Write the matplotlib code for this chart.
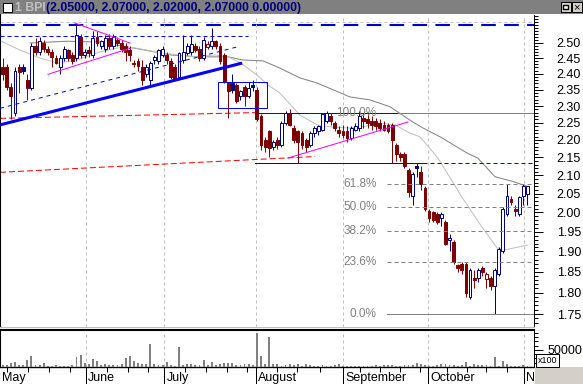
import numpy as np
import matplotlib
matplotlib.use("Agg")
import matplotlib.pyplot as plt
from matplotlib.patches import Rectangle
from matplotlib.ticker import FixedLocator, FormatStrFormatter, NullFormatter
from matplotlib.transforms import Affine2D, blended_transform_factory

plt.rcParams['font.family'] = ['Liberation Sans', 'DejaVu Sans']

W, H, DPI = 583, 384, 100

# daily bars, May - early November
opens = [2.42, 2.42, 2.36, 2.28, 2.42, 2.42, 2.38, 2.355, 2.49, 2.47,
         2.50, 2.48, 2.47, 2.45, 2.42, 2.45, 2.475, 2.46, 2.45, 2.52,
         2.46, 2.475, 2.46, 2.52, 2.49, 2.48, 2.515, 2.49, 2.51, 2.50,
         2.49, 2.475, 2.435, 2.44, 2.42, 2.40, 2.38, 2.445, 2.44, 2.46,
         2.46, 2.44, 2.42, 2.39, 2.445, 2.465, 2.47, 2.49, 2.48, 2.45,
         2.485, 2.49, 2.505, 2.49, 2.46, 2.37, 2.37, 2.365, 2.33, 2.36,
         2.33, 2.365, 2.35, 2.27, 2.20, 2.225, 2.18, 2.20, 2.185, 2.25,
         2.28, 2.235, 2.225, 2.22, 2.20, 2.185, 2.22, 2.225, 2.23, 2.255,
         2.27, 2.25, 2.23, 2.225, 2.225, 2.205, 2.23, 2.235, 2.265, 2.26,
         2.255, 2.255, 2.25, 2.245, 2.245, 2.245, 2.185, 2.16, 2.16, 2.115,
         2.045, 2.125, 2.11, 2.065, 2.005, 2.00, 1.995, 1.985, 1.975, 1.93,
         1.925, 1.866, 1.87, 1.87, 1.79, 1.835, 1.835, 1.86, 1.833, 1.835,
         1.815, 1.845, 1.90, 1.995, 2.036, 2.01, 1.995, 2.045, 2.05]
highs = [2.45, 2.43, 2.37, 2.42, 2.43, 2.43, 2.40, 2.50, 2.515, 2.52,
         2.51, 2.49, 2.48, 2.46, 2.46, 2.49, 2.48, 2.47, 2.56, 2.53,
         2.48, 2.49, 2.54, 2.54, 2.51, 2.525, 2.53, 2.53, 2.52, 2.51,
         2.50, 2.49, 2.445, 2.45, 2.445, 2.43, 2.44, 2.46, 2.48, 2.49,
         2.47, 2.45, 2.43, 2.47, 2.525, 2.50, 2.525, 2.50, 2.49, 2.52,
         2.505, 2.55, 2.51, 2.50, 2.465, 2.375, 2.40, 2.37, 2.35, 2.365,
         2.375, 2.38, 2.36, 2.275, 2.21, 2.23, 2.20, 2.21, 2.255, 2.285,
         2.29, 2.245, 2.23, 2.225, 2.205, 2.225, 2.24, 2.245, 2.28, 2.285,
         2.28, 2.255, 2.24, 2.245, 2.24, 2.24, 2.25, 2.285, 2.28, 2.275,
         2.27, 2.265, 2.26, 2.255, 2.25, 2.25, 2.19, 2.165, 2.165, 2.12,
         2.11, 2.135, 2.125, 2.07, 2.01, 2.005, 2.00, 2.00, 1.98, 1.945,
         1.93, 1.87, 1.875, 1.875, 1.86, 1.855, 1.86, 1.865, 1.85, 1.84,
         1.86, 1.91, 2.015, 2.075, 2.045, 2.02, 2.045, 2.075, 2.07]
lows = [2.38, 2.35, 2.26, 2.27, 2.34, 2.40, 2.32, 2.35, 2.46, 2.46,
        2.47, 2.46, 2.42, 2.43, 2.40, 2.44, 2.44, 2.43, 2.44, 2.45,
        2.45, 2.455, 2.45, 2.49, 2.48, 2.47, 2.48, 2.48, 2.49, 2.47,
        2.44, 2.44, 2.42, 2.41, 2.365, 2.39, 2.365, 2.43, 2.43, 2.455,
        2.43, 2.385, 2.38, 2.385, 2.435, 2.46, 2.46, 2.47, 2.44, 2.445,
        2.48, 2.48, 2.48, 2.43, 2.37, 2.265, 2.34, 2.31, 2.32, 2.30,
        2.325, 2.345, 2.255, 2.17, 2.165, 2.15, 2.17, 2.175, 2.18, 2.245,
        2.24, 2.19, 2.135, 2.175, 2.165, 2.18, 2.21, 2.215, 2.225, 2.25,
        2.245, 2.225, 2.21, 2.205, 2.195, 2.20, 2.225, 2.225, 2.235, 2.235,
        2.23, 2.23, 2.225, 2.225, 2.22, 2.135, 2.14, 2.14, 2.12, 2.04,
        2.02, 2.095, 2.06, 2.005, 1.975, 1.975, 1.97, 1.965, 1.915, 1.90,
        1.87, 1.85, 1.845, 1.79, 1.785, 1.81, 1.825, 1.84, 1.81, 1.805,
        1.75, 1.84, 1.895, 1.99, 2.02, 1.99, 1.99, 2.02, 2.02]
closes = [2.40, 2.36, 2.33, 2.41, 2.405, 2.41, 2.355, 2.49, 2.47, 2.505,
          2.48, 2.47, 2.455, 2.435, 2.45, 2.48, 2.45, 2.44, 2.525, 2.46,
          2.47, 2.465, 2.515, 2.50, 2.505, 2.515, 2.49, 2.52, 2.50, 2.48,
          2.47, 2.46, 2.43, 2.425, 2.38, 2.42, 2.435, 2.455, 2.475, 2.48,
          2.445, 2.39, 2.385, 2.465, 2.47, 2.49, 2.495, 2.475, 2.45, 2.51,
          2.495, 2.505, 2.49, 2.44, 2.375, 2.345, 2.35, 2.315, 2.345, 2.33,
          2.355, 2.36, 2.26, 2.185, 2.18, 2.178, 2.195, 2.185, 2.25, 2.28,
          2.245, 2.20, 2.195, 2.185, 2.18, 2.22, 2.235, 2.24, 2.275, 2.28,
          2.255, 2.235, 2.22, 2.215, 2.205, 2.235, 2.24, 2.27, 2.255, 2.25,
          2.245, 2.24, 2.235, 2.23, 2.225, 2.20, 2.16, 2.15, 2.125, 2.055,
          2.105, 2.12, 2.075, 2.01, 1.985, 1.98, 1.975, 1.995, 1.92, 1.935,
          1.875, 1.86, 1.855, 1.80, 1.855, 1.83, 1.855, 1.85, 1.845, 1.815,
          1.855, 1.905, 2.01, 2.045, 2.028, 2.005, 2.04, 2.07, 2.07]
# volume, x100 shares
volumes = [5900, 5900, 11800, 13700, 5900, 5900, 20600, 32300, 5900, 5900,
           11800, 2900, 2900, 5900, 2900, 2900, 2900, 5900, 29400, 35300,
           11800, 8800, 23500, 17600, 5900, 8800, 5900, 5900, 5900, 8800,
           26500, 32300, 17600, 11800, 8800, 8800, 67600, 8800, 5900, 5900,
           14700, 5900, 2900, 58800, 5900, 8800, 8800, 5900, 5900, 20600,
           5900, 14700, 5900, 8800, 11800, 11800, 11800, 5900, 5900, 8800,
           8800, 5900, 100000, 32300, 8800, 88000, 8800, 8800, 2900, 5900,
           8800, 5900, 8800, 2900, 8800, 5900, 2900, 2900, 5900, 2900,
           2900, 5900, 8800, 2900, 2900, 2900, 2900, 2900, 2900, 2900,
           2900, 5900, 2900, 5900, 5900, 5900, 2900, 2900, 5900, 5900,
           5900, 11800, 8800, 5900, 2900, 2900, 5900, 8800, 8800, 5900,
           5900, 2900, 5900, 14700, 2900, 8800, 5900, 5900, 5900, 2900,
           29400, 2900, 17600, 8800, 2900, 2900, 2900, 5900, 2900]

month_names = ['May', 'June', 'July', 'August', 'September', 'October', 'N']
month_starts = [-0.66, 20.24, 39.41, 61.71, 82.93, 103.73, 127.07]
week_ticks = [1.0, 6.2, 11.3, 16.4, 25.4, 30.5, 35.5, 44.5, 49.5, 54.6, 59.5,
              66.8, 71.7, 77.4, 87.2, 92.0, 96.9, 101.8, 108.3, 113.2, 118.0, 122.9]
price_ticks = [1.75, 1.80, 1.85, 1.90, 1.95, 2.00, 2.05, 2.10, 2.15, 2.20,
               2.25, 2.30, 2.35, 2.40, 2.45, 2.50]

# moving averages, sampled along the lines
ma_fast_x = [-0.66, 4.2, 9.1, 13.5, 18.1, 23.7, 29.3, 32.3, 38.6, 46.9, 51.8, 55.0,
             58.1, 62.0, 64.7, 67.6, 72.5, 76.7, 80.7, 84.7, 88.4, 92.0, 95.7,
             99.3, 101.8, 106.2, 112.0, 116.9, 120.6, 122.5, 128.1]
ma_fast = [2.507, 2.476, 2.450, 2.434, 2.444, 2.470, 2.486, 2.483, 2.467, 2.454,
           2.460, 2.454, 2.434, 2.396, 2.365, 2.340, 2.273, 2.244, 2.237, 2.235,
           2.240, 2.249, 2.244, 2.220, 2.209, 2.148, 2.041, 1.962, 1.909, 1.904, 1.916]
ma_slow_x = [6.7, 15.7, 23.7, 31.0, 41.0, 48.1, 55.0, 58.6, 63.5, 67.6, 72.5, 76.7,
             84.7, 89.6, 94.5, 100.1, 102.5, 106.7, 113.2, 115.9, 120.1, 124.5, 128.1]
ma_slow = [2.499, 2.505, 2.502, 2.485, 2.460, 2.454, 2.454, 2.444, 2.441, 2.418,
           2.387, 2.371, 2.328, 2.319, 2.298, 2.252, 2.235, 2.209, 2.163, 2.148,
           2.096, 2.083, 2.069]

# drawn studies: (bar, price) end points
support_line = ([-0.66, 58.4], [2.244, 2.434])
channel_line = ([-0.66, 57.4], [2.2935, 2.487])
resist_line = ([-0.66, 59.8], [2.522, 2.522])
red_upper = ([-0.66, 61.8], [2.2634, 2.2806])
red_lower = ([-0.66, 76.2], [2.1084, 2.1526])
pink_top = ([17.6, 31.05], [2.5656, 2.499])
pink_bottom = ([11.05, 31.05], [2.3984, 2.4816])
pink_rise = ([69.6, 98.85], [2.1483, 2.2524])
box_bars = (52.6, 64.4)
box_prices = (2.2943, 2.374)
break_level = 2.133
top_grey = 2.568
top_blue = 2.559
fib_high, fib_low = 2.28, 1.75
fib_ratios = [1.0, 0.618, 0.5, 0.382, 0.236, 0.0]
fib_labels = ['100.0%', '61.8%', '50.0%', '38.2%', '23.6%', '0.0%']

UP, DOWN = '#000080', '#800000'
PX = 0.72
XMIN, XMAX = -0.66, 129.6

fig = plt.figure(figsize=(W / DPI, H / DPI), dpi=DPI)
fig.patch.set_facecolor('white')
px = Affine2D().scale(1.0 / W, -1.0 / H).translate(0, 1) + fig.transFigure


def pbox(x0, y0, x1, y1):
    return [x0 / W, 1 - y1 / H, (x1 - x0) / W, (y1 - y0) / H]


ax = fig.add_axes(pbox(0, 15, 534, 327))
axv = fig.add_axes(pbox(0, 330, 534, 367))

# candles
n = len(closes)
bw = 0.7
for i in range(n):
    prev = closes[i - 1] if i > 0 else closes[i] + 0.01
    col = UP if closes[i] >= prev else DOWN
    filled = closes[i] < opens[i]
    ax.vlines(i, lows[i], highs[i], color=col, lw=PX, zorder=3)
    lo, hi = min(opens[i], closes[i]), max(opens[i], closes[i])
    ax.add_patch(Rectangle((i - bw / 2, lo), bw, hi - lo, facecolor=col if filled else 'white',
                           edgecolor=col, lw=PX, zorder=4))

ax.plot(ma_slow_x, ma_slow, color='#808080', lw=PX, zorder=2)
ax.plot(ma_fast_x, ma_fast, color='#c0c0c0', lw=PX, zorder=2)

ax.axhline(top_grey, color='#c0c0c0', lw=PX, ls=(0, (3, 3)), zorder=1)
ax.axhline(top_blue, color='#0000cc', lw=1.5, ls=(0, (7, 4)), zorder=1)

ax.plot(*support_line, color='#0000ff', lw=2.2, zorder=5, solid_capstyle='butt')
ax.plot(*channel_line, color='#0000ff', lw=PX, ls=(0, (4, 4)), zorder=5)
ax.plot(*resist_line, color='#0000ff', lw=PX, ls=(0, (4, 3)), zorder=5)
ax.plot(*red_upper, color='#ff0000', lw=PX, ls=(0, (6, 3)), zorder=2)
ax.plot(*red_lower, color='#ff0000', lw=PX, ls=(0, (6, 3)), zorder=2)
for seg in (pink_top, pink_bottom, pink_rise):
    ax.plot(*seg, color='#ff00ff', lw=PX, zorder=5)
ax.add_patch(Rectangle((box_bars[0], box_prices[0]), box_bars[1] - box_bars[0],
                       box_prices[1] - box_prices[0], facecolor='none', edgecolor='#0000ff',
                       lw=PX, zorder=5))
ax.plot([61.6, 102.5], [break_level, break_level], color='#0000cc', lw=PX, zorder=5)
ax.plot([102.5, XMAX], [break_level, break_level], color='#0000cc', lw=PX,
        ls=(0, (4, 3)), zorder=5)

# fibonacci retracement
for r, lab in zip(fib_ratios, fib_labels):
    lvl = fib_low + r * (fib_high - fib_low)
    if r == 1.0:
        ax.plot([61.7, 96.4], [lvl, lvl], color='#0000ff', lw=PX, zorder=5)
        ax.plot([96.4, XMAX], [lvl, lvl], color='#808080', lw=PX, zorder=5)
    elif r == 0.0:
        ax.plot([93.7, XMAX], [lvl, lvl], color='#808080', lw=PX, zorder=5)
    else:
        ax.plot([93.7, XMAX], [lvl, lvl], color='#808080', lw=PX, ls=(0, (4, 3)), zorder=5)
    ax.text(91.2, lvl, lab, color='#808080', fontsize=8.5, ha='right', va='center', zorder=6)

for ms in month_starts[1:]:
    for a in (ax, axv):
        a.axvline(ms, color='#c0c0c0', lw=PX, ls=(0, (3, 3)), zorder=1)

ax.set_yscale('log')
ax.set_xlim(XMIN, XMAX)
ax.set_ylim(1.7204, 2.5928)
ax.yaxis.set_major_locator(FixedLocator(price_ticks))
ax.yaxis.set_minor_locator(FixedLocator([round(1.72 + 0.01 * k, 2) for k in range(88)]))
ax.yaxis.set_major_formatter(FormatStrFormatter('%.2f'))
ax.yaxis.set_minor_formatter(NullFormatter())
ax.yaxis.tick_right()
ax.tick_params(axis='y', which='major', length=6.7, width=PX, pad=9.6, labelsize=9)
ax.tick_params(axis='y', which='minor', length=3.1, width=PX)
ax.set_xticks([])
ax.spines['top'].set_visible(False)
ax.spines['bottom'].set_color('#c0c0c0')
ax.spines['left'].set_linewidth(1.5)
ax.spines['right'].set_linewidth(PX)

# volume panel
axv.bar(np.arange(n), volumes, width=0.45, color='#808080', zorder=3)
axv.set_xlim(XMIN, XMAX)
axv.set_ylim(0, 108800)
axv.yaxis.tick_right()
axv.yaxis.set_major_locator(FixedLocator([50000]))
axv.yaxis.set_minor_locator(FixedLocator([12500, 25000, 37500, 62500, 75000, 87500, 100000]))
axv.yaxis.set_major_formatter(FormatStrFormatter('%d'))
axv.tick_params(axis='y', which='major', length=6.7, width=PX, pad=2.9, labelsize=9)
axv.tick_params(axis='y', which='minor', length=3.1, width=PX)
axv.xaxis.set_major_locator(FixedLocator(month_starts[1:]))
axv.xaxis.set_minor_locator(FixedLocator(week_ticks))
axv.xaxis.set_major_formatter(NullFormatter())
axv.tick_params(axis='x', which='major', length=12.5, width=PX, direction='out')
axv.tick_params(axis='x', which='minor', length=3.6, width=PX, direction='out')
for side, lw in (('top', 1.5), ('left', 1.5), ('bottom', 1.0), ('right', PX)):
    axv.spines[side].set_linewidth(lw)

tr = blended_transform_factory(axv.transData, px)
for name, ms in zip(month_names, month_starts):
    axv.text(ms + 0.55, 381.0, name, transform=tr, fontsize=9, va='baseline',
             ha='left', clip_on=False)

# window chrome
fig.add_artist(Rectangle((0, 0), W, 14, transform=px, facecolor='#808080', edgecolor='none'))
fig.add_artist(Rectangle((2.5, 2.5), 9, 9, transform=px, facecolor='white',
                         edgecolor='black', lw=PX))
fig.text(15, 7.8, '1 BPI', transform=px, color='#c0c0c0', fontsize=8.8,
         fontweight='bold', va='center')
fig.text(46.5, 7.8, '(2.05000, 2.07000, 2.02000, 2.07000 0.00000)', transform=px,
         color='#000080', fontsize=8.8, fontweight='bold', va='center')
for bx in (560.5, 571.5):
    fig.add_artist(Rectangle((bx, 2), 10, 10, transform=px, facecolor='#d4d0c8',
                             edgecolor='black', lw=PX))
fig.add_artist(Rectangle((563, 5), 5, 4, transform=px, facecolor='white',
                         edgecolor='black', lw=1.0))
fig.text(576.5, 7.2, '×', transform=px, fontsize=8, ha='center', va='center')

fig.add_artist(Rectangle((535, 367), 48, 17, transform=px, facecolor='#d4d0c8',
                         edgecolor='none'))
fig.add_artist(Rectangle((536, 354), 23, 12.5, transform=px, facecolor='white',
                         edgecolor='black', lw=PX))
fig.text(547.5, 360.5, 'x100', transform=px, fontsize=6.5, ha='center', va='center')

fig.savefig('out.png', dpi=DPI)
